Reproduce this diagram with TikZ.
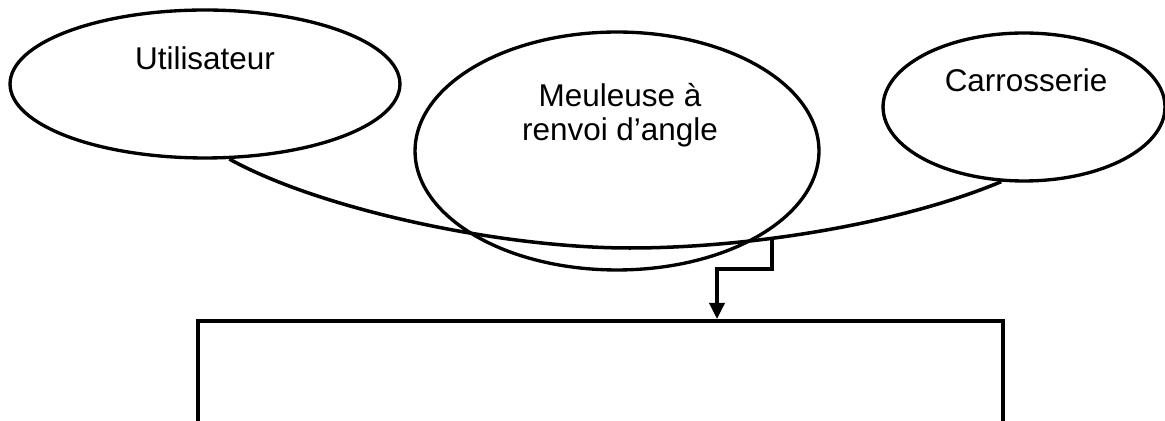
\documentclass[tikz,border=0pt]{standalone}
\usepackage{fontspec}
\setmainfont{Liberation Sans}
\usetikzlibrary{arrows.meta,positioning,shapes.geometric,calc}
\tikzset{
     actor/.style = {draw, ellipse, line width=1.9pt, inner sep=0pt},   % <--- elements around the product
       tag/.style = {font=\fontsize{17.9}{19.9}\selectfont, inner sep=0pt, align=center},
      link/.style = {line width=2pt},
       arr/.style = {link, -{Triangle[length=0.32cm, width=0.3cm]}},   % <--- arrow head of the drop line
        }

\begin{document}
\begin{tikzpicture}[x=0.02cm, y=-0.02cm,
    frame/.style={draw, line width=2pt, minimum width=16.1cm,
    minimum height=4cm, inner sep=0pt}]
\useasboundingbox (0,0) rectangle (1165,421);
\clip (0,0) rectangle (1165,421);
\node[actor, minimum width=7.8cm, minimum height=2.96cm] (user) at (205,84) {};
\node[actor, minimum width=8.08cm, minimum height=4.76cm] (tool) at (617,151) {};
\node[actor, minimum width=5.64cm, minimum height=2.96cm] (body) at (1024,107) {};
\node[tag, anchor=base] (usertxt) at (205,70) {Utilisateur};
\node[tag, anchor=base] (tooltxt) at (620,141) {Meuleuse à\\renvoi d’angle};
\node[tag, anchor=base] (bodytxt) at (1026,92) {Carrosserie};
\node[frame, anchor=north] (fct) at (600.5,319) {};
% bow from user to body, under the tool
\coordinate (dip) at (630,248);
\draw[link] (user.-72) .. controls +(90,50) and +(-130,0) .. (dip)
    .. controls +(120,0) and +(-100,42) .. (body.-107) coordinate[pos=0.37] (tap);
\coordinate (bend) at (717,269);
\draw[arr] (tap) |- (bend) -- (bend |- fct.north);
\end{tikzpicture}
\end{document}
